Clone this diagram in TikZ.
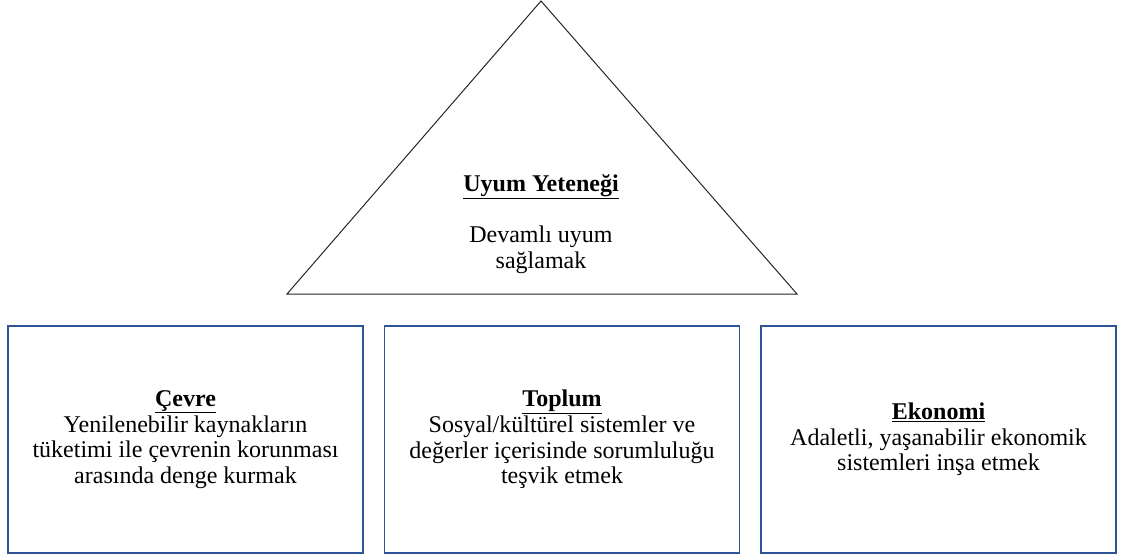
\documentclass[tikz,border=0pt]{standalone}
\usepackage{fontspec}
\setmainfont{Liberation Serif}
\definecolor{boxblue}{RGB}{47,84,150}

\begin{document}
\begin{tikzpicture}
[x=1pt, y=-1pt, font=\fontsize{24}{25.7}\selectfont,
every node/.style={align=center, inner sep=0 pt},
pillar/.style={draw=boxblue, line width=1.2 pt, minimum width=355 pt, minimum height=227 pt},
roof/.style={draw=black!85, line width=1 pt}
]

\useasboundingbox (0,0) rectangle (1123,556);

% corners of the triangle
\path
(541,1) coordinate (t1)
(287,294) coordinate (t2)
(797,294) coordinate (t3)
;
\draw[roof] (t1) -- (t2) -- (t3) -- cycle;

\node (Uyum) at (541,224) {\underline{\textbf{Uyum Yeteneği}}\\[25pt]Devamlı uyum\\sağlamak};

% boxes below the triangle
\path foreach \x/\n in {185.5/1,562/2,938.5/3}
{(\x,439.5) node[pillar] (P\n) {}}
;

\node (Cevre) at (P1) {\underline{\textbf{Çevre}}\\Yenilenebilir kaynakların\\tüketimi ile çevrenin korunması\\arasında denge kurmak};
\node (Toplum) at (P2) {\underline{\textbf{Toplum}}\\Sosyal/kültürel sistemler ve\\değerler içerisinde sorumluluğu\\teşvik etmek};
\node (Ekonomi) at (P3) {\underline{\textbf{Ekonomi}}\\Adaletli, yaşanabilir ekonomik\\sistemleri inşa etmek};

\end{tikzpicture}
\end{document}
